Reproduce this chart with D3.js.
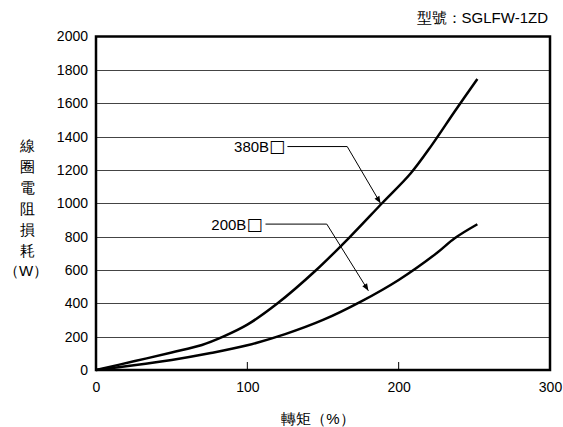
<!DOCTYPE html>
<html><head><meta charset="utf-8">
<script src="https://cdn.jsdelivr.net/npm/d3@7"></script>
<style>body{margin:0;background:#fff}svg{display:block}text{font-family:"Liberation Sans",Arial,sans-serif;fill:#000}</style>
</head><body>
<script>
const torque380 = [0, 25, 50, 70, 84, 100, 120, 145, 168, 189, 208, 222, 237, 252];
const loss380   = [0, 52, 105, 150, 200, 272, 400, 595, 800, 1000, 1180, 1350, 1550, 1745];
const torque200 = [0, 25, 50, 75, 100, 125, 150, 175, 200, 225, 237, 252];
const loss200   = [0, 28, 60, 100, 148, 215, 300, 410, 540, 700, 790, 874];
const xTicks = [0, 100, 200, 300];
const yTicks = [0, 200, 400, 600, 800, 1000, 1200, 1400, 1600, 1800, 2000];
const seriesNames = ["380B", "200B"];
const boxGlyph = "\u25A1";
const title = "型號：SGLFW-1ZD";
const yLabelChars = ["線", "圈", "電", "阻", "損", "耗"];
const yUnit = "（W）";
const xLabel = "轉矩（%）";

const W = 563, H = 427;
const m = {left: 96, right: 13, top: 36.5, bottom: 57};
const cjk = "Noto Sans CJK TC, sans-serif";
const svg = d3.select("body").append("svg").attr("width", W).attr("height", H);
const x = d3.scaleLinear().domain([0, 300]).range([m.left, W - m.right]);
const y = d3.scaleLinear().domain([0, 2000]).range([H - m.bottom, m.top]);

// gridlines
svg.append("g").selectAll("line").data(yTicks.slice(1, -1)).join("line")
  .attr("x1", x(0)).attr("x2", x(300))
  .attr("y1", d => Math.round(y(d)) + 0.5).attr("y2", d => Math.round(y(d)) + 0.5)
  .attr("stroke", "#444").attr("stroke-width", 1);

// inner x ticks
svg.append("g").selectAll("line").data([100, 200]).join("line")
  .attr("x1", d => x(d)).attr("x2", d => x(d))
  .attr("y1", y(0)).attr("y2", y(0) - 8)
  .attr("stroke", "#000").attr("stroke-width", 1);

// frame
svg.append("rect").attr("x", x(0)).attr("y", y(2000))
  .attr("width", x(300) - x(0)).attr("height", y(0) - y(2000))
  .attr("fill", "none").attr("stroke", "#000").attr("stroke-width", 2.5);

// axes labels
const yAxis = d3.axisLeft(y).tickValues(yTicks).tickFormat(d3.format("d")).tickSize(0).tickPadding(8);
const gy = svg.append("g").attr("transform", `translate(${x(0)},0)`).call(yAxis);
gy.select(".domain").remove();
gy.selectAll("text").attr("font-size", 14).attr("font-family", "Liberation Sans, Arial, sans-serif").attr("fill", "#000");

const xAxis = d3.axisBottom(x).tickValues(xTicks).tickFormat(d3.format("d")).tickSize(0).tickPadding(12);
const gx = svg.append("g").attr("transform", `translate(0,${y(0)})`).call(xAxis);
gx.select(".domain").remove();
gx.selectAll("text").attr("font-size", 14).attr("font-family", "Liberation Sans, Arial, sans-serif").attr("fill", "#000");

// curves
const line = d3.line().x(d => x(d[0])).y(d => y(d[1])).curve(d3.curveCatmullRom.alpha(0.5));
const s380 = torque380.map((t, i) => [t, loss380[i]]);
const s200 = torque200.map((t, i) => [t, loss200[i]]);
[s380, s200].forEach(s => svg.append("path").attr("d", line(s))
  .attr("fill", "none").attr("stroke", "#000").attr("stroke-width", 2.5).attr("stroke-linejoin", "round"));

// annotations
const defs = svg.append("defs");
defs.append("marker").attr("id", "arr").attr("viewBox", "0 0 10 10").attr("refX", 10).attr("refY", 5)
  .attr("markerWidth", 10).attr("markerHeight", 7).attr("markerUnits", "userSpaceOnUse").attr("orient", "auto")
  .append("path").attr("d", "M0,1 L10,5 L0,9 Z").attr("fill", "#000");

const annText = [[125, 1340], [110, 875]];
annText.forEach((p, i) => {
  const t = svg.append("text").attr("x", x(p[0])).attr("y", y(p[1]) + 5.5).attr("text-anchor", "end")
    .attr("font-size", 15);
  t.append("tspan").text(seriesNames[i]);
  t.append("tspan").attr("font-family", "DejaVu Sans").attr("font-size", 17).attr("font-weight", "bold")
    .attr("fill", "#000").text(boxGlyph);
});
const leaders = [
  [[126.5, 1340], [166, 1340], [188, 1000]],
  [[112, 875], [152.5, 875], [180, 475]]
];
leaders.forEach(p => {
  svg.append("path").attr("d", d3.line().x(d => x(d[0])).y(d => y(d[1]))(p))
    .attr("fill", "none").attr("stroke", "#000").attr("stroke-width", 1).attr("marker-end", "url(#arr)");
});

// title
svg.append("text").attr("x", 548).attr("y", 23).attr("text-anchor", "end").attr("font-size", 15)
  .attr("font-family", "Noto Sans CJK TC, Liberation Sans, sans-serif").text(title);

// y label
yLabelChars.forEach((c, i) => svg.append("text").attr("x", 27).attr("y", 151 + i * 21)
  .attr("text-anchor", "middle").attr("font-size", 15).attr("font-family", cjk).text(c));
svg.append("text").attr("x", 26).attr("y", 276).attr("text-anchor", "middle").attr("font-size", 15)
  .attr("font-family", cjk).text(yUnit);

// x label
svg.append("text").attr("x", 318).attr("y", 424).attr("text-anchor", "middle").attr("font-size", 15)
  .attr("font-family", cjk).text(xLabel);
</script>
</body></html>
